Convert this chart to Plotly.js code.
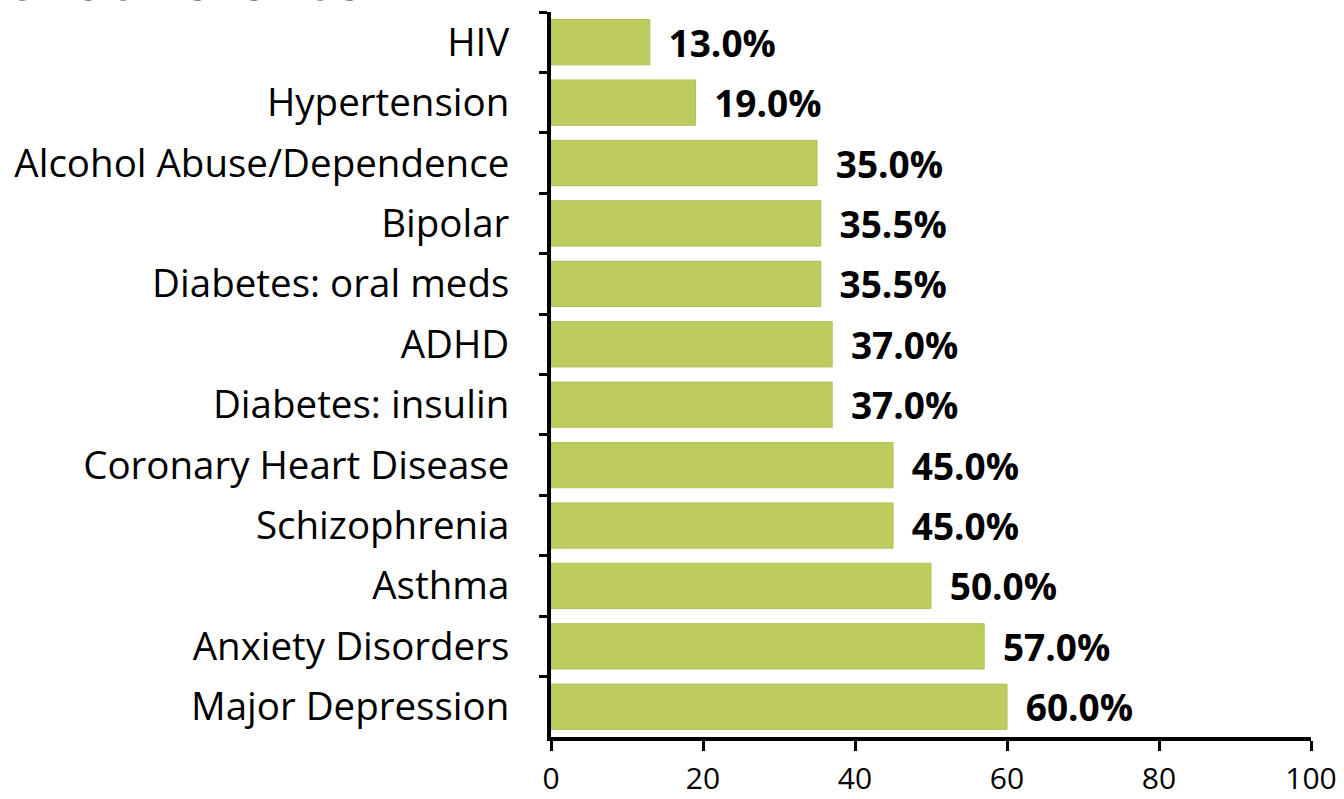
<!DOCTYPE html>
<html>
<head>
<meta charset="utf-8">
<script src="https://cdn.plot.ly/plotly-3.0.1.min.js"></script>
<style>html,body{margin:0;padding:0;background:#fff;}#chart{width:1344px;height:799px;}</style>
</head>
<body>
<div id="chart"></div>
<script>
const categories = ["HIV","Hypertension","Alcohol Abuse/Dependence","Bipolar","Diabetes: oral meds","ADHD","Diabetes: insulin","Coronary Heart Disease","Schizophrenia","Asthma","Anxiety Disorders","Major Depression"];
const values = [13.0,19.0,35.0,35.5,35.5,37.0,37.0,45.0,45.0,50.0,57.0,60.0];
const xTicks = [0,20,40,60,80,100];
const titleText = "Nonadherence";

const font = "'Open Sans', 'Noto Sans', sans-serif";

const trace = {
  type: "bar",
  orientation: "h",
  y: categories,
  x: values,
  marker: {color: "#bdcb5f", line: {color: "#b0bf55", width: 1}},
  text: values.map(v => v.toFixed(1) + "%"),
  texttemplate: " \u2009%{text}",
  textposition: "outside",
  constraintext: "none",
  textfont: {family: font, size: 37, color: "#000", weight: "bold"},
  cliponaxis: false,
  hoverinfo: "none"
};

const layout = {
  width: 1344, height: 799,
  margin: {l: 551, r: 33, t: 12, b: 62},
  paper_bgcolor: "#fff", plot_bgcolor: "#fff",
  bargap: 0.25,
  showlegend: false,
  font: {family: font, color: "#000"},
  xaxis: {
    range: [0, 100], tickvals: xTicks, ticktext: xTicks.map(String),
    showgrid: false, zeroline: false,
    showline: true, linecolor: "#000", linewidth: 4,
    ticks: "outside", ticklen: 10, tickwidth: 3, tickcolor: "#000",
    tickfont: {family: font, size: 30, color: "#000"},
    ticklabelstandoff: 2
  },
  yaxis: {
    autorange: "reversed", type: "category",
    showgrid: false, zeroline: false,
    showline: true, linecolor: "#000", linewidth: 4,
    ticks: "outside", ticklen: 8, tickwidth: 3, tickcolor: "#000",
    tickson: "boundaries",
    tickfont: {family: font, size: 38.5, color: "#000"},
    ticklabelstandoff: 30
  },
  annotations: [{
    text: titleText, xref: "paper", yref: "paper",
    x: -0.245, y: 0.9905, xanchor: "right", yanchor: "bottom",
    showarrow: false, font: {family: font, size: 58, color: "#000"}
  }]
};

Plotly.newPlot("chart", [trace], layout, {displayModeBar: false, staticPlot: true});
</script>
</body>
</html>
